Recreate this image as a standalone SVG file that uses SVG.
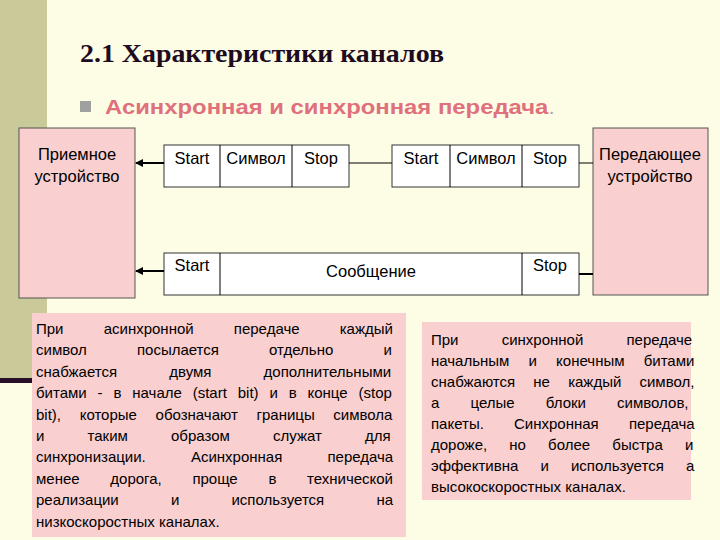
<svg xmlns="http://www.w3.org/2000/svg" width="720" height="540" viewBox="0 0 720 540">
<style>
.pink{fill:#f9cfcf;stroke:#555;stroke-width:1}
.fr{fill:#fff;stroke:#333;stroke-width:1}
.t{font-family:"Liberation Sans",Arial,sans-serif;font-size:15px;fill:#000}
.f{font-family:"Liberation Sans",Arial,sans-serif;font-size:16.5px;fill:#000;text-anchor:middle}
.c{text-anchor:middle}
.ln{stroke:#000;stroke-width:1;fill:none}
</style>
<defs><marker id="ah" markerWidth="8" markerHeight="8" refX="7" refY="4" orient="auto" markerUnits="userSpaceOnUse"><path d="M0,0L8,4L0,8Z" fill="#000"/></marker></defs>
<rect width="720" height="540" fill="#fdfde6"/>
<rect x="0" y="0" width="47" height="378" fill="#c9c99a"/>
<rect x="0" y="378" width="34" height="5" fill="#2a0f2a"/>
<text x="80" y="62" font-family="Liberation Serif,serif" font-size="25" font-weight="bold" fill="#1e0c1e" textLength="364" lengthAdjust="spacingAndGlyphs">2.1 Характеристики каналов</text>
<rect x="80" y="101" width="11" height="11" fill="#a0a0a0"/>
<text x="105" y="114" font-family="Liberation Sans,Arial,sans-serif" font-size="21" font-weight="bold" fill="#e0707c" textLength="450" lengthAdjust="spacingAndGlyphs">Асинхронная и синхронная передача<tspan fill="#aaa" font-weight="normal">.</tspan></text>
<g id="receiver"><rect class="pink" x="19" y="128" width="116" height="170"/><text class="f" x="77" y="160">Приемное</text><text class="f" x="77" y="182">устройство</text></g>
<g id="transmitter"><rect class="pink" x="593" y="128" width="115" height="167"/><text class="f" x="650" y="160">Передающее</text><text class="f" x="650" y="182">устройство</text></g>
<g id="frame1"><rect class="fr" x="164" y="145" width="185" height="42"/><line class="ln" x1="220" y1="145" x2="220" y2="187"/><line class="ln" x1="292" y1="145" x2="292" y2="187"/><text class="f" x="192" y="164">Start</text><text class="f" x="256" y="164">Символ</text><text class="f" x="321" y="164">Stop</text></g>
<g id="frame2"><rect class="fr" x="392" y="145" width="187" height="42"/><line class="ln" x1="450" y1="145" x2="450" y2="187"/><line class="ln" x1="522" y1="145" x2="522" y2="187"/><text class="f" x="421" y="164">Start</text><text class="f" x="486" y="164">Символ</text><text class="f" x="550" y="164">Stop</text></g>
<g id="frame3"><rect class="fr" x="164" y="253" width="415" height="42"/><line class="ln" x1="220" y1="253" x2="220" y2="295"/><line class="ln" x1="522" y1="253" x2="522" y2="295"/><text class="f" x="192" y="271">Start</text><text class="f" x="371" y="277" font-size="21">Сообщение</text><text class="f" x="550" y="271">Stop</text></g>
<g id="connectors">
<line x1="164" y1="163" x2="136" y2="163" stroke="#000" stroke-width="2" marker-end="url(#ah)"/>
<line x1="164" y1="271" x2="136" y2="271" stroke="#000" stroke-width="2" marker-end="url(#ah)"/>
<line class="ln" x1="349" y1="163" x2="392" y2="163"/>
<line class="ln" x1="579" y1="163" x2="593" y2="163"/>
<line x1="579" y1="274" x2="593" y2="274" stroke="#000" stroke-width="2"/>
</g>
<g id="text-async"><rect x="32" y="313" width="374" height="224" fill="#f9cfcf"/>
<text class="t">
<tspan x="36" y="334" word-spacing="36">При асинхронной передаче каждый</tspan>
<tspan x="36" y="355" word-spacing="46">символ посылается отдельно и</tspan>
<tspan x="36" y="377" word-spacing="48">снабжается двумя дополнительными</tspan>
<tspan x="36" y="398" word-spacing="6.7">битами - в начале (start bit) и в конце (stop</tspan>
<tspan x="36" y="420" word-spacing="14.5">bit), которые обозначают границы символа</tspan>
<tspan x="36" y="441" word-spacing="39">и таким образом служат для</tspan>
<tspan x="36" y="462" word-spacing="41">синхронизации. Асинхронная передача</tspan>
<tspan x="36" y="484" word-spacing="26.5">менее дорога, проще в технической</tspan>
<tspan x="36" y="505" word-spacing="48">реализации и используется на</tspan>
<tspan x="36" y="527">низкоскоростных каналах.</tspan>
</text></g>
<g id="text-sync"><rect x="422" y="322" width="269" height="178" fill="#f9cfcf"/>
<text class="t">
<tspan x="431" y="345" word-spacing="39">При синхронной передаче</tspan>
<tspan x="431" y="366" word-spacing="15">начальным и конечным битами</tspan>
<tspan x="431" y="387" word-spacing="14">снабжаются не каждый символ,</tspan>
<tspan x="431" y="408" word-spacing="27">а целые блоки символов,</tspan>
<tspan x="431" y="429" word-spacing="26">пакеты. Синхронная передача</tspan>
<tspan x="431" y="450" word-spacing="18">дороже, но более быстра и</tspan>
<tspan x="431" y="471" word-spacing="18">эффективна и используется а</tspan>
<tspan x="431" y="492">высокоскоростных каналах.</tspan>
</text></g>
</svg>
